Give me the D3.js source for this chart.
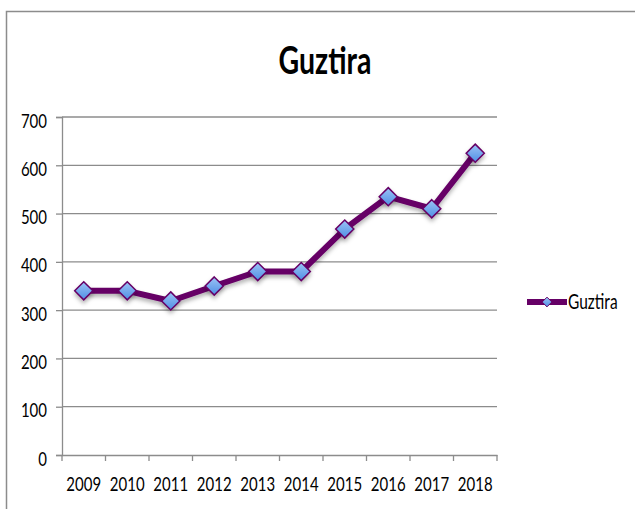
<!DOCTYPE html>
<html>
<head>
<meta charset="utf-8">
<script src="https://cdn.jsdelivr.net/npm/d3@7"></script>
<style>
  body { margin: 0; background: #fff; }
  svg { display: block; }
</style>
</head>
<body>
<div id="chart"></div>
<script>
var years = ["2009", "2010", "2011", "2012", "2013", "2014", "2015", "2016", "2017", "2018"];
var guztira = [340, 340, 319, 350, 380, 380, 468, 535, 510, 625];
var yTicks = [0, 100, 200, 300, 400, 500, 600, 700];
var seriesName = "Guztira";

var width = 635, height = 509;
var margin = {top: 117, right: 138, bottom: 54, left: 62};
var stretch = 1.32; // text in the picture is taller than wide

var svg = d3.select("#chart").append("svg")
  .attr("width", width)
  .attr("height", height)
  .style("font-family", "Lato, 'Open Sans', sans-serif");

// chart area border
svg.append("rect")
  .attr("x", 6.5)
  .attr("y", 11.5)
  .attr("width", width + 10)
  .attr("height", height + 10)
  .attr("fill", "none")
  .attr("stroke", "#8c8c8c")
  .attr("stroke-width", 1.5);

svg.append("text")
  .attr("transform", "translate(325,74) scale(1," + stretch + ")")
  .attr("text-anchor", "middle")
  .style("font-size", "28.5px")
  .style("font-weight", "bold")
  .text(seriesName);

var xScale = d3.scaleBand()
  .domain(years)
  .range([margin.left, width - margin.right]);

var yScale = d3.scaleLinear()
  .domain([0, 700])
  .range([height - margin.bottom, margin.top]);

// gridlines
svg.append("g").selectAll("line")
  .data(yTicks.slice(1))
  .enter()
  .append("line")
  .attr("x1", margin.left)
  .attr("x2", width - margin.right)
  .attr("y1", function(d) {return yScale(d);})
  .attr("y2", function(d) {return yScale(d);})
  .attr("stroke", "#8c8c8c")
  .attr("stroke-width", 1.3);

var yAxis = d3.axisLeft(yScale).tickValues(yTicks).tickSize(6);
var yAxisGroup = svg.append("g")
  .attr("transform", "translate(" + margin.left + ",0)")
  .call(yAxis);

var xAxis = d3.axisBottom(xScale).tickSize(0);
var xAxisGroup = svg.append("g")
  .attr("transform", "translate(0," + (height - margin.bottom) + ")")
  .call(xAxis);

// x ticks at band boundaries
xAxisGroup.selectAll(".bound")
  .data(years.concat(["end"]))
  .enter()
  .append("line")
  .attr("x1", function(d, i) {return margin.left + i * xScale.step();})
  .attr("x2", function(d, i) {return margin.left + i * xScale.step();})
  .attr("y1", 0)
  .attr("y2", 6)
  .attr("stroke", "#8c8c8c")
  .attr("stroke-width", 1.3);

[yAxisGroup, xAxisGroup].forEach(function(g) {
  g.select(".domain").attr("stroke", "#8c8c8c").attr("stroke-width", 1.3);
  g.selectAll(".tick line").attr("stroke", "#8c8c8c").attr("stroke-width", 1.3);
  g.selectAll("text")
    .style("font-family", "Lato, 'Open Sans', sans-serif")
    .style("font-size", "15px")
    .attr("fill", "#000")
    .attr("x", 0)
    .attr("y", 0)
    .attr("dy", "0.36em");
});

yAxisGroup.selectAll("text")
  .attr("transform", "translate(-15,3) scale(1," + stretch + ")");
xAxisGroup.selectAll("text")
  .attr("transform", "translate(0,29) scale(1," + stretch + ")");

var defs = svg.append("defs");
var grad = defs.append("linearGradient")
  .attr("id", "mk")
  .attr("x1", "0").attr("y1", "0").attr("x2", "0").attr("y2", "1");
grad.append("stop").attr("offset", "0%").attr("stop-color", "#9cc4f6");
grad.append("stop").attr("offset", "100%").attr("stop-color", "#4f8ee4");

var shadow = defs.append("filter").attr("id", "sh")
  .attr("x", "-50%").attr("y", "-50%").attr("width", "200%").attr("height", "200%");
shadow.append("feDropShadow")
  .attr("dx", 0).attr("dy", 3).attr("stdDeviation", 2)
  .attr("flood-color", "#000").attr("flood-opacity", 0.3);

var line = d3.line()
  .x(function(d, i) {return xScale(years[i]) + xScale.bandwidth() / 2;})
  .y(function(d) {return yScale(d);});

svg.append("path")
  .datum(guztira)
  .attr("d", line)
  .attr("fill", "none")
  .attr("stroke", "#660066")
  .attr("stroke-width", 6)
  .attr("stroke-linejoin", "round")
  .attr("filter", "url(#sh)");

var diamond = d3.symbol().type(d3.symbolDiamond2).size(210);

svg.append("g").selectAll("path")
  .data(guztira)
  .enter()
  .append("path")
  .attr("d", diamond)
  .attr("transform", function(d, i) {
    return "translate(" + (xScale(years[i]) + xScale.bandwidth() / 2) + "," + yScale(d) + ")";
  })
  .attr("fill", "url(#mk)")
  .attr("stroke", "#660066")
  .attr("stroke-width", 1.5)
  .attr("filter", "url(#sh)");

// legend
var legend = svg.append("g").attr("transform", "translate(527,302)");
legend.append("line")
  .attr("x1", 0).attr("x2", 40)
  .attr("stroke", "#660066")
  .attr("stroke-width", 6);
legend.append("path")
  .attr("d", d3.symbol().type(d3.symbolDiamond2).size(60))
  .attr("transform", "translate(20,0)")
  .attr("fill", "url(#mk)")
  .attr("stroke", "#660066")
  .attr("stroke-width", 1);
legend.append("text")
  .attr("transform", "translate(41,0) scale(1," + stretch + ")")
  .attr("dy", "0.36em")
  .style("font-size", "15.5px")
  .text(seriesName);
</script>
</body>
</html>
